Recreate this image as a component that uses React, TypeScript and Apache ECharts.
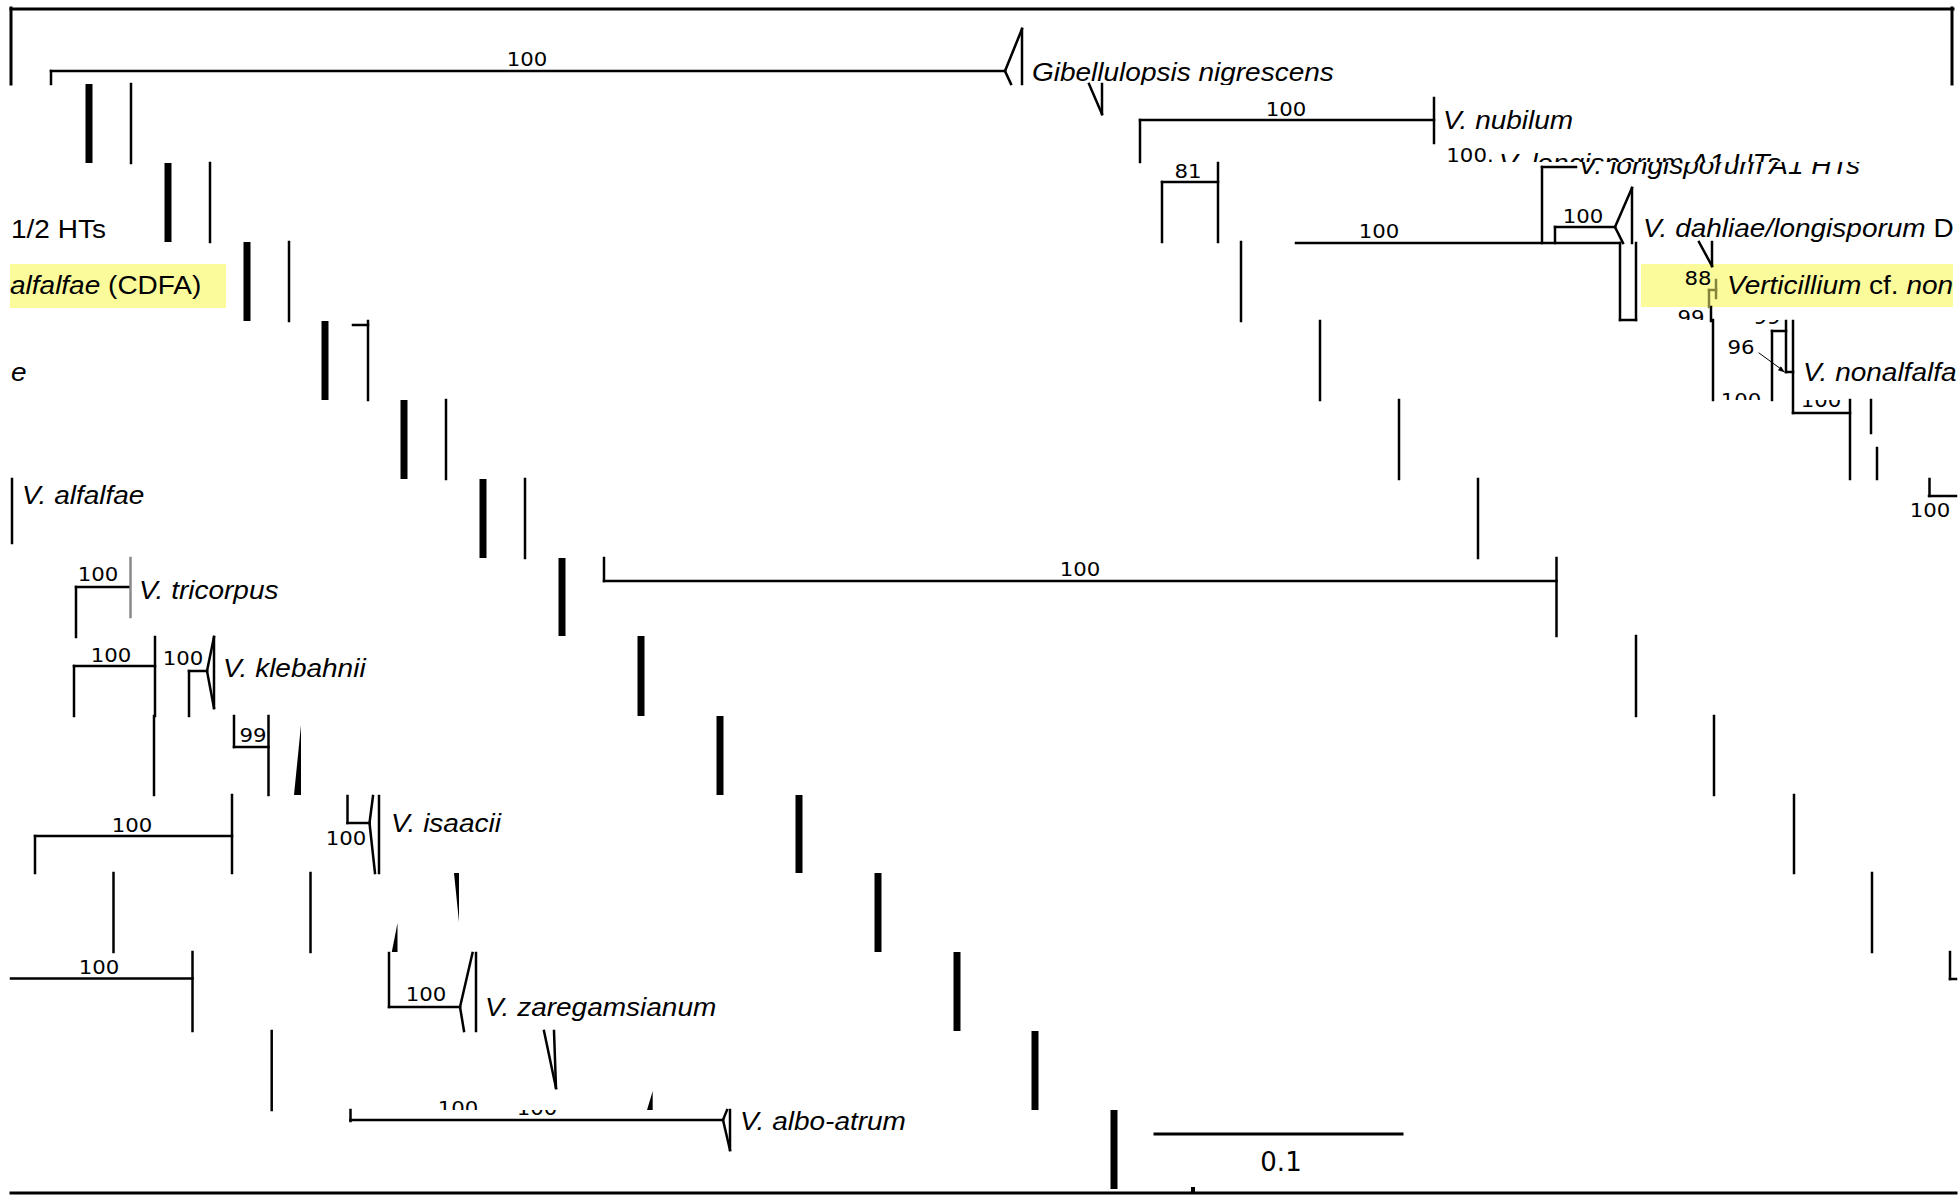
import React, { useEffect, useRef } from "react";
import * as echarts from "echarts";

const WIDTH = 1960;
const HEIGHT = 1196;

// Horizontal bands of the (sheared) picture, top to bottom
const BAND_EDGES = [84, 163, 242, 321, 400, 479, 558, 636, 716, 795, 873, 952, 1031, 1110, 1189];
// Staircase of heavy bars, one per band
const THICK_BAR_X = [89, 168, 247, 325, 404, 483, 562, 641, 720, 799, 878, 957, 1035, 1114];
// Staircase of thin bars next to the heavy ones
const THIN_BAR_X = [131, 210, 289, 368, 446, 525];

// Frame lines [x1, y1, x2, y2]
const FRAME_LINES: number[][] = [
  [11, 9, 1953, 9],
  [11, 8, 11, 84],
  [1952, 8, 1952, 84],
  [11, 1193, 1956, 1193],
];

// Tree branches [x1, y1, x2, y2]
const BRANCH_LINES: number[][] = [
  [51, 84, 51, 71], [51, 71, 1005, 71],
  [1005, 71, 1022, 29], [1022, 29, 1022, 84], [1005, 71, 1011, 84],
  [1089, 84, 1102, 114], [1102, 84, 1102, 114],
  [1140, 162, 1140, 120], [1140, 120, 1434, 120], [1434, 98, 1434, 143],
  [1162, 242, 1162, 182], [1162, 182, 1218, 182], [1218, 163, 1218, 242],
  [1542, 243, 1542, 167], [1542, 167, 1576, 167],
  [1555, 243, 1555, 227], [1555, 227, 1615, 227],
  [1615, 227, 1632, 188], [1632, 188, 1632, 243], [1615, 227, 1623, 243],
  [1296, 243, 1620, 243],
  [1241, 242, 1241, 321],
  [1620, 243, 1620, 320], [1636, 243, 1636, 320], [1620, 320, 1636, 320],
  [1699, 242, 1712, 266], [1712, 242, 1712, 266],
  [1711, 307, 1711, 321],
  [353, 325, 368, 325],
  [1320, 321, 1320, 400],
  [1713, 320, 1713, 400],
  [1772, 400, 1772, 331], [1772, 331, 1786, 331], [1786, 321, 1786, 372],
  [1786, 372, 1793, 372],
  [1793, 321, 1793, 413], [1793, 413, 1850, 413],
  [1399, 400, 1399, 479], [1850, 400, 1850, 479],
  [1871, 400, 1871, 433], [1877, 448, 1877, 479],
  [1478, 479, 1478, 558],
  [1929.5, 479, 1929.5, 496], [1929, 496, 1956, 496],
  [12, 479, 12, 543],
  [604, 558, 604, 581], [604, 581, 1556.5, 581], [1556.5, 558, 1556.5, 636],
  [76, 637, 76, 587], [76, 587, 129, 587],
  [1636, 636, 1636, 716],
  [74, 716, 74, 666], [74, 666, 155, 666], [155, 637, 155, 716],
  [189, 716, 189, 671], [189, 671, 207, 671],
  [207, 671, 214, 637], [214, 637, 214, 708], [207, 671, 214, 708],
  [1714, 716, 1714, 795],
  [154, 716, 154, 795],
  [234, 716, 234, 747], [234, 747, 268.5, 747], [268.5, 716, 268.5, 795],
  [1794, 795, 1794, 873],
  [35, 873, 35, 836], [35, 836, 232, 836], [232, 795, 232, 873],
  [347.5, 796, 347.5, 823], [347.5, 823, 369.5, 823],
  [369.5, 823, 373, 796], [369.5, 823, 375, 873], [379, 796, 379, 873],
  [1872, 873, 1872, 952],
  [113.5, 873, 113.5, 952], [310.5, 873, 310.5, 952],
  [1950, 952, 1950, 979], [1950, 979, 1956, 979],
  [11, 978.5, 192.5, 978.5], [192.5, 952, 192.5, 1031],
  [389, 953, 389, 1007], [389, 1007, 460, 1007],
  [460, 1007, 472.5, 953], [460, 1007, 464, 1031], [476, 953, 476, 1031],
  [271.7, 1031, 271.7, 1110],
  [544, 1031, 556, 1088], [554, 1031, 556, 1088],
  [350.5, 1110, 350.5, 1121], [350.5, 1120, 723, 1120],
  [723, 1120, 727, 1110], [723, 1120, 730, 1150], [730, 1110, 730, 1150],
];

const GRAY_LINES: number[][] = [[130.5, 558, 130.5, 617]];
const OLIVE_LINES: number[][] = [
  [1716, 280, 1716, 298], [1709, 290, 1716, 290], [1709, 290, 1709, 307],
];
const ARROW_LINES: number[][] = [[1759, 353, 1781, 369]];
const SCALE_BAR: number[][] = [[1155, 1134, 1402, 1134]];

// Filled wedges (collapsed clades), arrow head and a stray mark
const WEDGES: number[][][] = [
  [[301, 725], [301, 795], [294, 795]],
  [[454, 873], [459, 873], [459, 922]],
  [[397.5, 923], [391.8, 952], [397.5, 952]],
  [[652.7, 1091], [647, 1110], [652.7, 1110]],
  [[1785, 372.5], [1777.9, 370.3], [1780.9, 366.3]],
  [[1191, 1187], [1195, 1187], [1195, 1193], [1191, 1193]],
];

// Highlight boxes [x0, y0, x1, y1]
const HIGHLIGHTS: number[][] = [
  [10, 264, 226, 308],
  [1641, 264, 1953, 307],
];

// Taxon labels [text, x, y, clipTop?, clipBottom?]
type Label = [string, number, number, number?, number?];
const TAXON_LABELS: Label[] = [
  ["Gibellulopsis nigrescens", 1032, 73, 0, 85],
  ["V. nubilum", 1443, 121],
  ["V. longisporum A1 HTs", 1499, 164, 0, 162],
  ["V. longisporum A1 HTs", 1578, 166, 162, 1196],
  ["{i|V. dahliae/longisporum} {n|D}", 1643, 229, 0, 243],
  ["{i|Verticillium} {n|cf.} {i|non}", 1727, 286],
  ["V. nonalfalfa", 1803, 373],
  ["{n|1/2 HTs}", 11, 230],
  ["{i|alfalfae} {n|(CDFA)}", 10, 286],
  ["e", 11, 373],
  ["V. alfalfae", 22, 496],
  ["V. tricorpus", 139, 591],
  ["V. klebahnii", 223, 669],
  ["V. isaacii", 391, 824],
  ["V. zaregamsianum", 485, 1008],
  ["V. albo-atrum", 740, 1122],
];

// Bootstrap support values [text, x, y, clipTop?, clipBottom?]
const SUPPORT_LABELS: Label[] = [
  ["100", 527, 59],
  ["100", 1286, 109],
  ["100.", 1470, 155],
  ["81", 1188, 171, 163, 1196],
  ["81", 1109, 171, 0, 163],
  ["100", 1379, 231],
  ["100", 1583, 216],
  ["88", 1698, 278],
  ["99", 1691, 317, 0, 320],
  ["99", 1767, 317, 320, 1196],
  ["96", 1741, 347],
  ["100", 1741, 400, 0, 400],
  ["100", 1821, 400, 400, 1196],
  ["100", 1930, 510],
  ["100", 1080, 569],
  ["100", 98, 574],
  ["100", 111, 655],
  ["100", 183, 658],
  ["99", 253, 735],
  ["100", 132, 825],
  ["100", 346, 838],
  ["100", 99, 967],
  ["100", 426, 994],
  ["100", 458, 1108, 0, 1110],
  ["100", 537, 1108, 1110, 1196],
];

const SCALE_LABELS: Label[] = [["0.1", 1281, 1162]];

// ---- styles ----
const INK = "#000000";
const SANS = '"Liberation Sans", Arial, sans-serif';
const NUMS = '"DejaVu Sans", Verdana, sans-serif';
const STRETCH = 1.12;

function lineSeries(name: string, segs: number[][], color: string, width: number, z: number) {
  return {
    type: "custom",
    name,
    coordinateSystem: "cartesian2d",
    z,
    silent: true,
    data: segs,
    renderItem: (_params: any, api: any) => {
      const a = api.coord([api.value(0), api.value(1)]);
      const b = api.coord([api.value(2), api.value(3)]);
      return {
        type: "line",
        shape: { x1: a[0], y1: a[1], x2: b[0], y2: b[1] },
        style: { stroke: color, lineWidth: width, lineCap: "square", fill: null },
      };
    },
  };
}

function textSeries(name: string, labels: Label[], font: any, z: number) {
  return {
    type: "custom",
    name,
    coordinateSystem: "cartesian2d",
    z,
    silent: true,
    data: labels.map((l) => [l[1], l[2]]),
    renderItem: (params: any, api: any) => {
      const l = labels[params.dataIndex];
      const p = api.coord([l[1], l[2]]);
      const el: any = {
        type: "text",
        x: p[0],
        y: p[1],
        scaleX: font.scaleX,
        style: {
          text: l[0],
          fill: INK,
          fontSize: font.size,
          fontFamily: font.family,
          fontStyle: font.style,
          align: font.align,
          verticalAlign: "middle",
          rich: {
            i: { fontStyle: "italic", fontSize: font.size, fontFamily: font.family, fill: INK },
            n: { fontStyle: "normal", fontSize: font.size, fontFamily: font.family, fill: INK },
          },
        },
      };
      if (l[3] != null && l[4] != null) {
        const t = api.coord([0, l[3]])[1];
        const b = api.coord([0, l[4]])[1];
        el.clipPath = {
          type: "rect",
          shape: { x: -4000, y: t - p[1], width: 8000, height: b - t },
        };
      }
      return el;
    },
  };
}

function buildOption() {
  const thinSegs = THIN_BAR_X.map((x, k) => [x, BAND_EDGES[k], x, BAND_EDGES[k + 1]]);
  const thickData = THICK_BAR_X.map((x, k) => [x, BAND_EDGES[k], BAND_EDGES[k + 1]]);
  return {
    animation: false,
    backgroundColor: "#ffffff",
    grid: { left: 0, right: 0, top: 0, bottom: 0 },
    xAxis: { type: "value", min: 0, max: WIDTH, show: false },
    yAxis: { type: "value", min: 0, max: HEIGHT, inverse: true, show: false },
    series: [
      {
        type: "custom",
        name: "highlights",
        coordinateSystem: "cartesian2d",
        z: 1,
        silent: true,
        data: HIGHLIGHTS,
        renderItem: (_p: any, api: any) => {
          const a = api.coord([api.value(0), api.value(1)]);
          const b = api.coord([api.value(2), api.value(3)]);
          return {
            type: "rect",
            shape: { x: a[0], y: a[1], width: b[0] - a[0], height: b[1] - a[1] },
            style: { fill: "#fbfb9c" },
          };
        },
      },
      {
        type: "custom",
        name: "heavy bars",
        coordinateSystem: "cartesian2d",
        z: 2,
        silent: true,
        data: thickData,
        renderItem: (_p: any, api: any) => {
          const top = api.coord([api.value(0), api.value(1)]);
          const bot = api.coord([api.value(0), api.value(2)]);
          const w = api.size([7, 0])[0];
          return {
            type: "rect",
            shape: { x: top[0] - w / 2, y: top[1], width: w, height: bot[1] - top[1] },
            style: { fill: INK },
          };
        },
      },
      lineSeries("thin bars", thinSegs, INK, 2.5, 2),
      lineSeries("frame", FRAME_LINES, INK, 3, 2),
      lineSeries("branches", BRANCH_LINES, INK, 2.5, 2),
      lineSeries("gray", GRAY_LINES, "#8a8a8a", 2.5, 2),
      lineSeries("olive", OLIVE_LINES, "#84843c", 2.5, 2),
      lineSeries("arrow", ARROW_LINES, INK, 1, 2),
      lineSeries("scale", SCALE_BAR, INK, 3, 2),
      {
        type: "custom",
        name: "wedges",
        coordinateSystem: "cartesian2d",
        z: 2,
        silent: true,
        data: WEDGES.map((w) => [w[0][0], w[0][1]]),
        renderItem: (params: any, api: any) => {
          const pts = WEDGES[params.dataIndex].map((pt) => api.coord(pt));
          return { type: "polygon", shape: { points: pts }, style: { fill: INK } };
        },
      },
      textSeries("taxa", TAXON_LABELS, { size: 25, family: SANS, style: "italic", align: "left", scaleX: STRETCH }, 3),
      textSeries("support", SUPPORT_LABELS, { size: 19, family: NUMS, style: "normal", align: "center", scaleX: STRETCH }, 3),
      textSeries("scale label", SCALE_LABELS, { size: 26, family: NUMS, style: "normal", align: "center", scaleX: 1 }, 3),
    ],
  };
}

export default function App() {
  const ref = useRef<HTMLDivElement>(null);
  useEffect(() => {
    document.body.style.margin = "0";
    const chart = echarts.init(ref.current as HTMLDivElement, null, { renderer: "svg" });
    chart.setOption(buildOption() as any);
    return () => chart.dispose();
  }, []);
  return <div ref={ref} style={{ width: WIDTH, height: HEIGHT }} />;
}
